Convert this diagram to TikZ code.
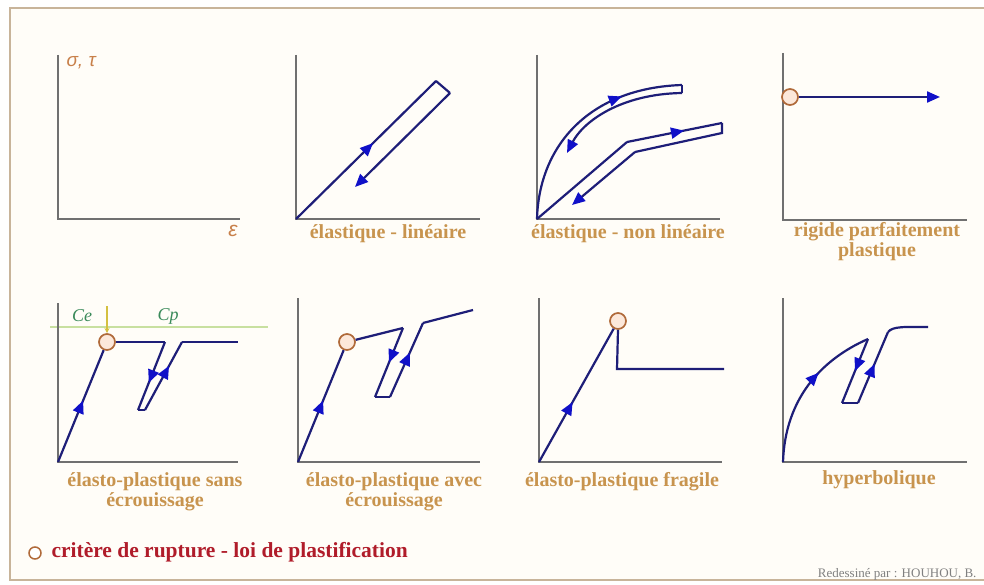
\documentclass[tikz,border=0pt]{standalone}
\usepackage{fontspec}
\setmainfont{Liberation Serif}
\newfontfamily\sansgr{Liberation Sans}
\usetikzlibrary{arrows.meta,decorations.markings}
\definecolor{axisgray}{HTML}{707070}
\definecolor{curvenavy}{HTML}{1E1E78}
\definecolor{arrowblue}{HTML}{1010C8}
\definecolor{labelgold}{HTML}{C8944E}
\definecolor{axislab}{HTML}{C8804A}
\definecolor{circbrown}{HTML}{B06A3A}
\definecolor{circfill}{HTML}{FCE8DA}
\definecolor{legendred}{HTML}{B01C2A}
\definecolor{framecol}{HTML}{C8B49A}
\definecolor{bgcol}{HTML}{FFFDF8}
\definecolor{cgreen}{HTML}{3A8A5A}
\definecolor{lightgreen}{HTML}{C8E0A0}
\definecolor{yelarrow}{HTML}{D4C040}
\tikzset{
  axisline/.style={draw=axisgray,line width=2.4pt},
  curve/.style={draw=curvenavy,line width=2.2pt,line join=miter},
  midarrow/.style={postaction={decorate,decoration={markings,
     mark=at position #1 with {\arrow{Triangle[length=13pt,width=11pt,fill=arrowblue,color=arrowblue]}}}}},
  endarrow/.style={-{Triangle[length=13pt,width=11pt,fill=arrowblue,color=arrowblue]}},
  critcirc/.style={circle,draw=circbrown,fill=circfill,line width=1.7pt,minimum size=16pt,inner sep=0pt},
  panellabel/.style={font=\bfseries\fontsize{20}{20}\selectfont,text=labelgold,align=center},
}
\begin{document}
\begin{tikzpicture}[x=1pt,y=-1pt]
\useasboundingbox (0,0) rectangle (984,585);
\fill[white] (0,0) rectangle (984,585);
\draw[draw=framecol,fill=bgcol,line width=2pt] (10,8) rectangle (990,580);

% ---------- Panel 1: axes ----------
\coordinate (o1) at (58,219);
\draw[axisline] (58,55) -- (o1) -- (240,219);
\node[anchor=west,text=axislab,font=\sansgr\itshape\fontsize{19}{21}\selectfont] (sig) at (63,63) {σ, τ};
\node[text=axislab,font=\sansgr\itshape\fontsize{21}{23}\selectfont] (eps) at (233,231) {ε};

% ---------- Panel 2: elastique lineaire ----------
\coordinate (o2) at (296,219);
\coordinate (p2a) at (436,81);
\coordinate (p2b) at (450,93);
\coordinate (p2c) at (355,187);
\draw[axisline] (296,55) -- (o2) -- (480,219);
\draw[curve,midarrow=0.55] (o2) -- (p2a);
\draw[curve] (p2a) -- (p2b);
\draw[curve,endarrow] (p2b) -- (p2c);
\node[panellabel] (l2) at (388,234) {élastique - linéaire};

% ---------- Panel 3: elastique non lineaire ----------
\coordinate (o3) at (537,219);
\coordinate (p3a) at (682,85);
\coordinate (p3b) at (682,93);
\coordinate (p3c) at (567,153);
\coordinate (q3a) at (627,142);
\coordinate (q3b) at (722,123);
\coordinate (q3c) at (722,133);
\coordinate (q3d) at (635,152);
\coordinate (q3e) at (572,205);
\draw[axisline] (537,55) -- (o3) -- (720,219);
\draw[curve,midarrow=0.72] (o3) .. controls (539,145) and (590,88) .. (p3a);
\draw[curve] (p3a) -- (p3b);
\draw[curve,endarrow] (p3b) .. controls (620,94) and (583,122) .. (p3c);
\draw[curve] (o3) -- (q3a);
\draw[curve,midarrow=0.6] (q3a) -- (q3b);
\draw[curve] (q3b) -- (q3c) -- (q3d);
\draw[curve,endarrow] (q3d) -- (q3e);
\node[panellabel] (l3) at (628,234) {élastique - non linéaire};

% ---------- Panel 4: rigide parfaitement plastique ----------
\coordinate (o4) at (783,220);
\draw[axisline] (783,53) -- (o4) -- (967,220);
\node[critcirc] (c4) at (790,97) {};
\coordinate (p4a) at (940,97);
\draw[curve,endarrow] (c4) -- (p4a);
\node[panellabel] (l4) at (877,242) {rigide parfaitement\\plastique};

% ---------- Panel 5: elasto-plastique sans ecrouissage ----------
\coordinate (o5) at (58,462);
\draw[lightgreen,line width=1.2pt] (50,327) -- (268,327);
\draw[axisline] (58,303) -- (o5) -- (238,462);
\node[text=cgreen,font=\itshape\fontsize{18}{20}\selectfont] (ce) at (82,316) {Ce};
\node[text=cgreen,font=\itshape\fontsize{18}{20}\selectfont] (cp) at (168,316) {Cp};
\coordinate (y5a) at (107,306);
\coordinate (y5b) at (107,333);
\draw[yelarrow,line width=1.2pt,-{Stealth[length=5pt,width=5pt]}] (y5a) -- (y5b);
\node[critcirc] (c5) at (107,342) {};
\coordinate (p5a) at (165,342);
\coordinate (p5b) at (138,410);
\coordinate (p5c) at (145,410);
\coordinate (p5d) at (182,342);
\coordinate (p5e) at (238,342);
\draw[curve,midarrow=0.55] (o5) -- (c5);
\draw[curve] (c5) -- (p5a);
\draw[curve,midarrow=0.6] (p5a) -- (p5b);
\draw[curve] (p5b) -- (p5c);
\draw[curve,midarrow=0.65] (p5c) -- (p5d);
\draw[curve] (p5d) -- (p5e);
\node[panellabel] (l5) at (155,492) {élasto-plastique sans\\écrouissage};

% ---------- Panel 6: elasto-plastique avec ecrouissage ----------
\coordinate (o6) at (298,462);
\draw[axisline] (298,298) -- (o6) -- (480,462);
\node[critcirc] (c6) at (347,342) {};
\coordinate (p6a) at (403,328);
\coordinate (p6b) at (375,397);
\coordinate (p6c) at (390,397);
\coordinate (p6d) at (423,323);
\coordinate (p6e) at (473,310);
\draw[curve,midarrow=0.55] (o6) -- (c6);
\draw[curve] (c6) -- (p6a);
\draw[curve,midarrow=0.5] (p6a) -- (p6b);
\draw[curve] (p6b) -- (p6c);
\draw[curve,midarrow=0.6] (p6c) -- (p6d);
\draw[curve] (p6d) -- (p6e);
\node[panellabel] (l6) at (394,492) {élasto-plastique avec\\écrouissage};

% ---------- Panel 7: elasto-plastique fragile ----------
\coordinate (o7) at (539,462);
\draw[axisline] (539,298) -- (o7) -- (722,462);
\node[critcirc] (c7) at (618,321) {};
\coordinate (p7a) at (617,369);
\coordinate (p7b) at (724,369);
\draw[curve,midarrow=0.45] (o7) -- (c7);
\draw[curve] (c7.south) -- (p7a) -- (p7b);
\node[panellabel] (l7) at (622,482) {élasto-plastique fragile};

% ---------- Panel 8: hyperbolique ----------
\coordinate (o8) at (783,462);
\coordinate (p8a) at (868,339);
\coordinate (p8b) at (842,403);
\coordinate (p8c) at (858,403);
\coordinate (p8d) at (888,332);
\coordinate (p8e) at (928,327);
\draw[axisline] (783,298) -- (o8) -- (967,462);
\draw[curve,midarrow=0.62] (o8) .. controls (785,400) and (820,360) .. (p8a);
\draw[curve,midarrow=0.5] (p8a) -- (p8b);
\draw[curve] (p8b) -- (p8c);
\draw[curve,midarrow=0.55] (p8c) -- (p8d);
\draw[curve] (p8d) .. controls (893,326) and (905,327) .. (p8e);
\node[panellabel] (l8) at (879,480) {hyperbolique};

% ---------- Legend ----------
\node[circle,draw=circbrown,fill=white,line width=1.5pt,minimum size=12pt,inner sep=0pt] (lc) at (35,553) {};
\node[anchor=west,text=legendred,font=\bfseries\fontsize{21.5}{23}\selectfont] (lt) at (48,552) {critère de rupture - loi de plastification};
\node[anchor=east,text=gray,font=\fontsize{13}{15}\selectfont] (cred) at (980,574) {Redessiné par : HOUHOU, B.};
\end{tikzpicture}
\end{document}
